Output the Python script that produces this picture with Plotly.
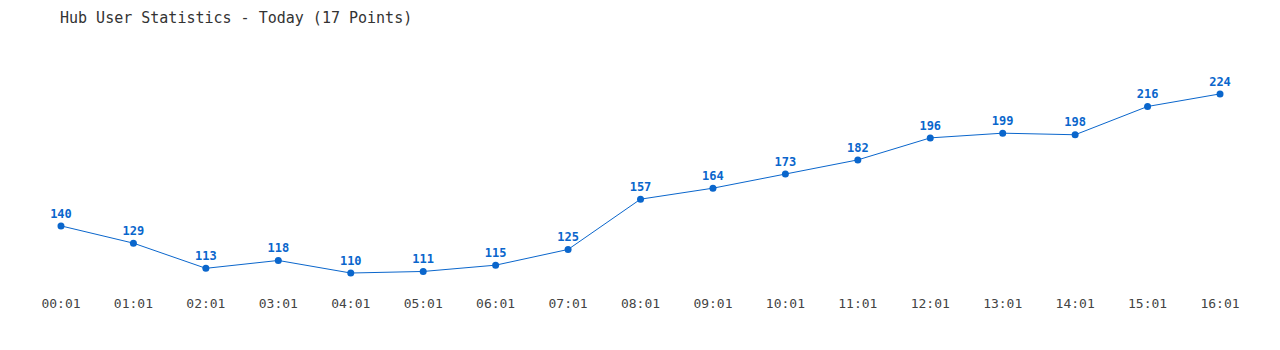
import plotly.graph_objects as go

times = ["00:01", "01:01", "02:01", "03:01", "04:01", "05:01", "06:01", "07:01", "08:01",
         "09:01", "10:01", "11:01", "12:01", "13:01", "14:01", "15:01", "16:01"]
users = [140, 129, 113, 118, 110, 111, 115, 125, 157, 164, 173, 182, 196, 199, 198, 216, 224]

idx = list(range(len(times)))
blue = "#0a66cc"
mono = "DejaVu Sans Mono"

fig = go.Figure()
fig.add_trace(go.Scatter(
    x=idx, y=users, mode="lines+markers+text",
    line=dict(color=blue, width=1),
    marker=dict(color=blue, size=7),
    text=[str(v) for v in users], textposition="top center",
    textfont=dict(family=mono, size=12, color=blue, weight="bold"),
    hoverinfo="x+y", showlegend=False,
))

fig.update_layout(
    width=1280, height=350,
    margin=dict(l=0, r=0, t=40, b=60),
    paper_bgcolor="white", plot_bgcolor="white",
    title=dict(text="Hub User Statistics - Today (17 Points)", x=60 / 1280, xanchor="left",
               y=1 - 18 / 350, yanchor="middle",
               font=dict(family=mono, size=15, color="#333333")),
    xaxis=dict(range=[-0.842, 16.828], tickmode="array", tickvals=idx, ticktext=times,
               showgrid=False, zeroline=False, showline=False, ticks="",
               ticklabelstandoff=4,
               tickfont=dict(family=mono, size=13, color="#444444")),
    yaxis=dict(range=[99.2, 258.3], showgrid=False, zeroline=False, showline=False,
               showticklabels=False),
)

fig.write_html("out.html")
